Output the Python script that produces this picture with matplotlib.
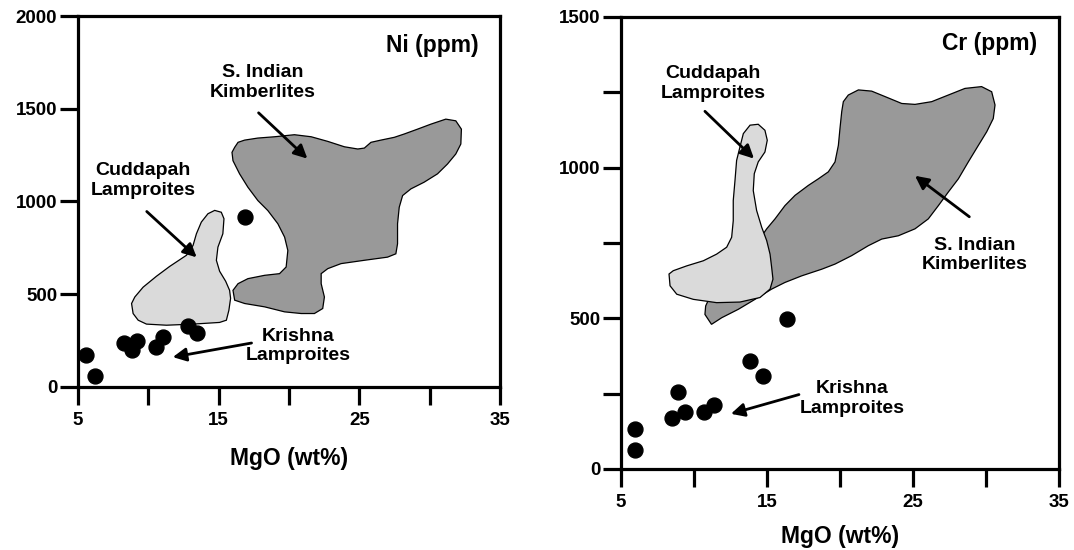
import matplotlib
matplotlib.use("Agg")
import matplotlib.pyplot as plt
from matplotlib.ticker import MultipleLocator

plt.rcParams['font.family'] = ['Liberation Sans', 'DejaVu Sans']
plt.rcParams['font.weight'] = 'bold'

# Krishna lamproites, MgO (wt%) vs Ni / Cr (ppm)
ni_mgo = [5.57, 6.21, 8.26, 8.83, 9.18, 10.53, 11.03, 12.80, 13.44, 16.84]
ni_ppm = [172, 59, 237, 199, 247, 215, 269, 328, 290, 919]
cr_mgo = [5.96, 5.96, 8.51, 8.93, 9.38, 10.71, 11.37, 13.84, 14.75, 16.39]
cr_ppm = [132, 63, 168, 257, 190, 190, 212, 360, 308, 499]

# field outlines (MgO, ppm)
ni_kimb_x = [16.14, 16.38, 16.85, 17.79, 18.98, 20.39, 21.58, 22.76, 23.94, 24.89, 25.36, 25.83,
             26.54, 27.49, 28.20, 29.14, 30.09, 31.15, 31.86, 32.26, 32.22, 31.86, 31.27, 30.56,
             29.61, 28.67, 28.08, 27.84, 27.72, 27.72, 27.60, 27.01, 25.36, 23.70, 22.76, 22.29,
             22.29, 22.52, 22.40, 21.81, 20.87, 19.69, 18.27, 16.85, 16.14, 16.02, 16.38, 17.08,
             18.27, 19.33, 19.80, 19.92, 19.69, 19.21, 18.50, 17.79, 17.08, 16.49, 16.02, 15.95]
ni_kimb_y = [1292, 1319, 1331, 1342, 1349, 1360, 1349, 1324, 1295, 1283, 1288, 1319,
             1331, 1346, 1364, 1390, 1417, 1444, 1435, 1390, 1310, 1256, 1202, 1149,
             1104, 1068, 1032, 969, 880, 772, 718, 700, 683, 665, 638, 611,
             557, 485, 423, 396, 396, 405, 432, 450, 468, 521, 557, 584,
             602, 611, 647, 736, 808, 880, 951, 1005, 1077, 1149, 1220, 1265]

ni_cud_x = [14.72, 15.19, 15.38, 15.30, 14.95, 14.84, 15.07, 15.50, 15.78, 15.85, 15.73, 15.55,
            15.07, 13.18, 11.29, 9.87, 9.28, 8.92, 8.81, 9.04, 9.63, 10.58, 11.52, 12.71,
            13.18, 13.42, 13.77, 14.24]
ni_cud_y = [952, 942, 907, 826, 754, 683, 624, 570, 521, 478, 414, 360,
            348, 339, 333, 339, 360, 396, 450, 485, 538, 597, 650, 710,
            763, 826, 889, 934]

cr_kimb_x = [20.23, 20.57, 21.26, 22.17, 23.08, 24.23, 25.14, 26.28, 27.42, 28.56, 29.70, 30.39,
             30.62, 30.50, 30.05, 29.48, 28.79, 28.11, 27.42, 26.74, 26.05, 25.14, 24.00, 22.86,
             21.94, 20.80, 19.66, 18.75, 17.38, 16.23, 15.32, 14.18, 13.04, 11.90, 11.20, 10.75,
             10.80, 11.44, 12.81, 14.18, 14.98, 15.55, 16.23, 16.92, 17.83, 18.52, 19.20, 19.66,
             19.89, 20.00, 20.12]
cr_kimb_y = [1219, 1241, 1258, 1254, 1236, 1213, 1210, 1219, 1241, 1263, 1269, 1252,
             1208, 1163, 1119, 1074, 1019, 963, 919, 874, 830, 797, 774, 763,
             741, 708, 680, 663, 641, 619, 597, 563, 530, 502, 480, 513,
             541, 608, 674, 741, 797, 830, 874, 908, 941, 963, 986, 1019,
             1074, 1130, 1186]

cr_cud_x = [13.38, 13.84, 14.40, 14.86, 15.02, 14.86, 14.40, 14.13, 14.06, 14.29, 14.64, 14.98,
            15.21, 15.32, 15.41, 15.21, 14.52, 13.15, 11.55, 9.95, 8.82, 8.36, 8.29, 8.58,
            9.50, 10.64, 11.55, 12.24, 12.58, 12.69, 12.69, 12.81, 12.92, 13.15]
cr_cud_y = [1113, 1141, 1144, 1124, 1091, 1052, 1019, 980, 924, 858, 802, 758,
            713, 669, 630, 597, 569, 554, 552, 563, 580, 608, 647, 658,
            674, 691, 713, 736, 769, 824, 891, 958, 1024, 1069]

x_ticks = [5, 15, 25, 35]

dark = '#999999'
light = '#dadada'
fs_tick = 13.5
fs_lab = 16.5
fs_note = 14


def style_axes(ax, ymax, ymajor, yminor, lpad):
    ax.set_xlim(5, 35)
    ax.set_ylim(0, ymax)
    ax.set_xticks(x_ticks)
    ax.xaxis.set_minor_locator(MultipleLocator(5))
    ax.yaxis.set_major_locator(MultipleLocator(ymajor))
    if yminor:
        ax.yaxis.set_minor_locator(MultipleLocator(yminor))
    for s in ax.spines.values():
        s.set_linewidth(2.3)
    ax.tick_params(which='both', direction='out', length=13, width=2.3)
    ax.tick_params(axis='y', labelsize=fs_tick, pad=2)
    ax.tick_params(axis='x', labelsize=fs_tick, pad=5)
    ax.set_xlabel('MgO (wt%)', fontsize=fs_lab, fontweight='bold', labelpad=lpad)


def note(ax, text, xy, xytext, txt_pos):
    ax.annotate('', xy=xy, xytext=xytext,
                arrowprops=dict(arrowstyle='-|>', color='black', lw=2, mutation_scale=20,
                                shrinkA=0, shrinkB=0), zorder=5)
    ax.text(txt_pos[0], txt_pos[1], text, ha='center', va='center', fontsize=fs_note,
            fontweight='bold', linespacing=1.2)


fig = plt.figure(figsize=(10.74, 5.5), dpi=100)
ax1 = fig.add_axes([0.0726, 0.2964, 0.3929, 0.6745])
ax2 = fig.add_axes([0.5782, 0.1473, 0.4078, 0.8218])

# Ni panel
ax1.fill(ni_kimb_x, ni_kimb_y, facecolor=dark, edgecolor='black', lw=0.9, zorder=2)
ax1.fill(ni_cud_x, ni_cud_y, facecolor=light, edgecolor='black', lw=0.9, zorder=2)
ax1.scatter(ni_mgo, ni_ppm, s=115, color='black', zorder=4)
style_axes(ax1, 2000, 500, None, 13)
ax1.text(33.5, 1839, 'Ni (ppm)', ha='right', va='center', fontsize=fs_lab, fontweight='bold')
note(ax1, 'S. Indian\nKimberlites', (21.31, 1231), (17.84, 1478), (18.12, 1640))
note(ax1, 'Cuddapah\nLamproites', (13.44, 699), (9.89, 946), (9.61, 1113))
note(ax1, 'Krishna\nLamproites', (11.74, 161), (17.34, 237), (20.67, 220))

# Cr panel
ax2.fill(cr_kimb_x, cr_kimb_y, facecolor=dark, edgecolor='black', lw=0.9, zorder=2)
ax2.fill(cr_cud_x, cr_cud_y, facecolor=light, edgecolor='black', lw=0.9, zorder=3)
ax2.scatter(cr_mgo, cr_ppm, s=115, color='black', zorder=4)
style_axes(ax2, 1500, 500, 250, 10)
ax2.text(33.5, 1413, 'Cr (ppm)', ha='right', va='center', fontsize=fs_lab, fontweight='bold')
note(ax2, 'Cuddapah\nLamproites', (14.11, 1030), (10.75, 1187), (11.30, 1280))
note(ax2, 'S. Indian\nKimberlites', (25.14, 973), (28.86, 837), (29.25, 710))
note(ax2, 'Krishna\nLamproites', (12.53, 183), (17.19, 247), (20.82, 233))

fig.savefig('out.png', dpi=100)
